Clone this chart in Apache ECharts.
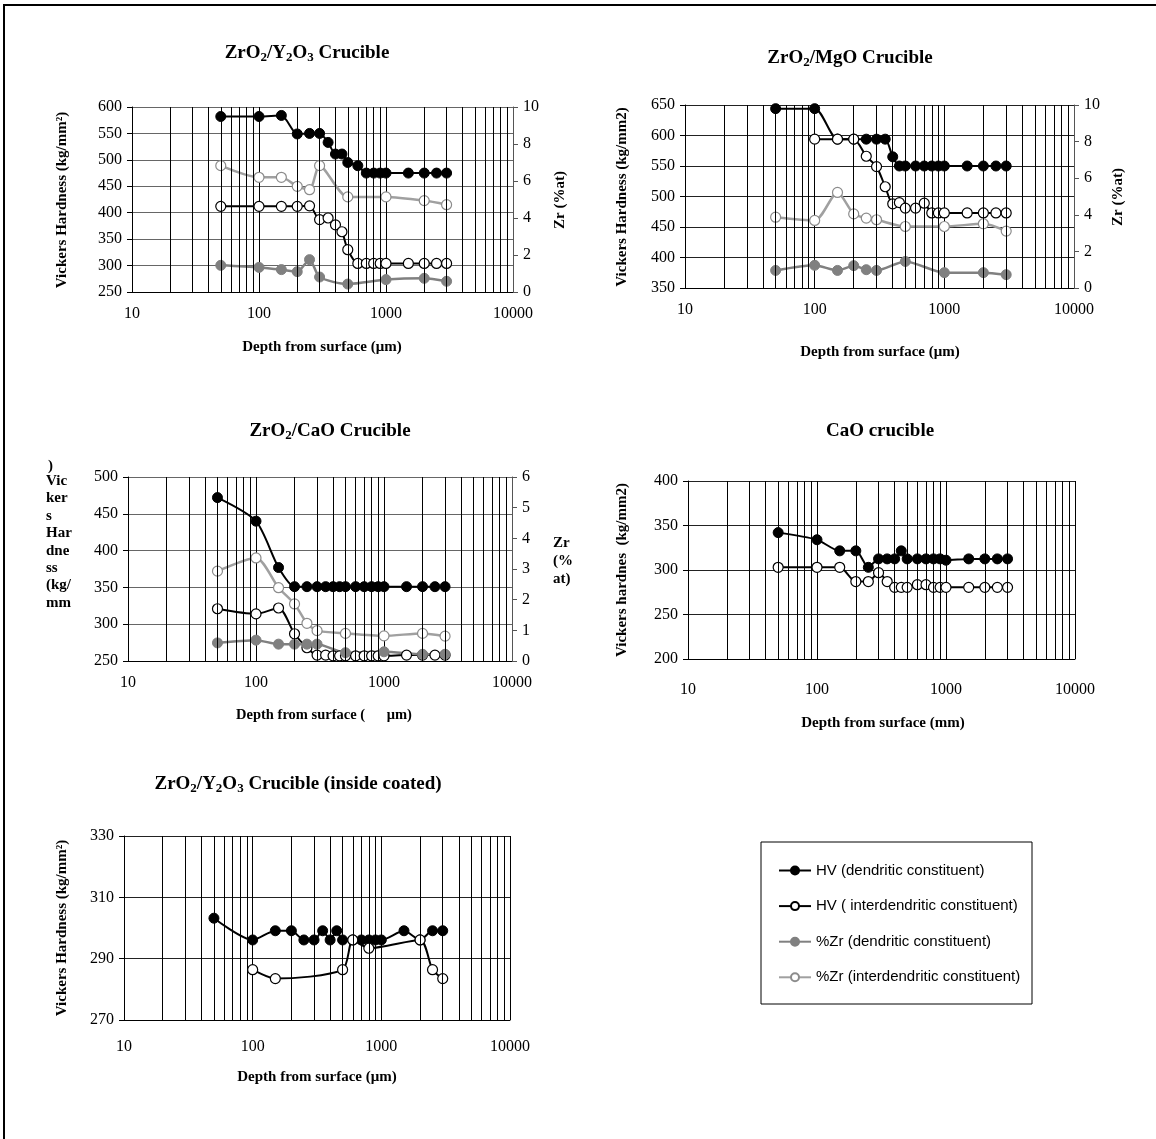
<!DOCTYPE html>
<html>
<head>
<meta charset="utf-8">
<script src="https://cdn.jsdelivr.net/npm/echarts@6/dist/echarts.min.js"></script>
<style>html,body{margin:0;padding:0;background:#fff}#c{width:1156px;height:1139px}</style>
</head>
<body>
<div id="c"></div>
<script>
// ---------- data ----------
const depthStd = [50,100,150,200,250,300,350,400,450,500,600,700,800,900,1000,1500,2000,2500,3000];
const depthZr = [50,100,150,200,250,300,500,1000,2000,3000];

// Panel 1: ZrO2/Y2O3
const p1HVd = [582,582,584,549,550,550,533,511,511,495,489,475,475,475,475,475,475,475,475];
const p1HVi = [412,412,412,412,413,387,390,377,364,330,304,304,304,304,304,304,304,304,304];
const p1Zrd = [1.44,1.33,1.21,1.10,1.75,0.81,0.43,0.67,0.74,0.58];
const p1Zri = [6.83,6.20,6.20,5.71,5.53,6.83,5.14,5.14,4.94,4.72];

// Panel 2: ZrO2/MgO
const p2HVd = [644,644,594,594,594,594,594,565,550,550,550,550,550,550,550,550,550,550,550];
const p2HViDepth = [100,150,200,250,300,350,400,450,500,600,700,800,900,1000,1500,2000,2500,3000];
const p2HVi = [594,594,594,566,549,516,488,490,481,481,489,473,473,473,473,473,473,473];
const p2Zrd = [0.96,1.24,0.96,1.22,1.00,0.96,1.45,0.84,0.84,0.73];
const p2Zri = [3.87,3.69,5.22,4.05,3.82,3.73,3.36,3.36,3.51,3.11];

// Panel 3: ZrO2/CaO
const p3HVd = [472,440,377,351,351,351,351,351,351,351,351,351,351,351,351,351,351,351,351];
const p3HViDepth = [50,100,150,200,250,300,350,400,450,500,600,700,800,900,1000,1500,2000,2500,3000];
const p3HVi = [321,314,322,287,268,258,258,257,257,257,257,257,257,257,257,258,258,258,258];
const p3Zrd = [0.59,0.68,0.55,0.55,0.55,0.55,0.27,0.30,0.22,0.22];
const p3Zri = [2.93,3.36,2.39,1.86,1.23,0.99,0.90,0.82,0.90,0.81];

// Panel 4: CaO crucible
const p4HVd = [342,334,321.5,321.5,303,312.5,312.5,312.5,321.5,312.5,312.5,312.5,312.5,312.5,311,312.5,312.5,312.5,312.5];
const p4HVi = [303,303,303,287,287,297,287,280.5,280.5,280.5,283.5,283.5,280.5,280.5,280.5,280.5,280.5,280.5,280.5];

// Panel 5: ZrO2/Y2O3 inside coated
const p5HVd = [303.2,296.1,299.1,299.1,296.1,296.1,299.1,296.1,299.1,296.1,296.1,296.1,296.1,296.1,296.1,299.1,296.1,299.1,299.1];
const p5HViDepth = [100,150,500,600,800,2000,2500,3000];
const p5HVi = [286.4,283.5,286.4,296.1,293.4,296.1,286.4,283.5];

const minorX = [20,30,40,50,60,70,80,90,200,300,400,500,600,700,800,900,2000,3000,4000,5000,6000,7000,8000,9000];
const xTickLabels = ['10','100','1000','10000'];

const seriesNames = ['HV (dendritic constituent)','HV ( interdendritic constituent)','%Zr (dendritic constituent)','%Zr (interdendritic constituent)'];

// ---------- helpers ----------
const SERIF = '"Liberation Serif", "Times New Roman", serif';
const zip = (xs, ys) => xs.map((x, i) => [x, ys[i]]);

const grids = [
  {left:132, top:107, width:381, height:185},
  {left:685, top:105, width:389, height:183},
  {left:128, top:477, width:384, height:184},
  {left:688, top:481, width:387, height:178},
  {left:124, top:836, width:386, height:184}
];
const xLabelMargin = [14,14,14,23,19];

const xAxes = grids.map((g, i) => ({
  type:'log', logBase:10, min:10, max:10000, gridIndex:i,
  axisLine:{show:true, lineStyle:{color:'#000', width:1}},
  axisTick:{show:false},
  splitLine:{show:true, lineStyle:{color:'#000', width:1}},
  axisLabel:{color:'#000', fontFamily:SERIF, fontSize:16, margin:xLabelMargin[i],
    formatter: v => xTickLabels.indexOf(String(Math.round(v))) >= 0 ? String(Math.round(v)) : ''}
}));

function leftY(grid, min, max, interval, splitColor) {
  return {type:'value', gridIndex:grid, position:'left', min, max, interval,
    axisLine:{show:true, lineStyle:{color:'#000', width:1}},
    axisTick:{show:true, length:5, lineStyle:{color:'#000'}},
    splitLine:{show:true, lineStyle:{color:splitColor, width:1}},
    axisLabel:{color:'#000', fontFamily:SERIF, fontSize:16, margin:10}};
}
function rightY(grid, min, max, interval) {
  return {type:'value', gridIndex:grid, position:'right', min, max, interval,
    axisLine:{show:true, lineStyle:{color:'#555', width:1}},
    axisTick:{show:true, length:5, lineStyle:{color:'#555'}},
    splitLine:{show:false},
    axisLabel:{color:'#000', fontFamily:SERIF, fontSize:16, margin:10}};
}
const yAxes = [
  leftY(0, 250, 600, 50, '#666'), rightY(0, 0, 10, 2),
  leftY(1, 350, 650, 50, '#222'), rightY(1, 0, 10, 2),
  leftY(2, 250, 500, 50, '#666'), rightY(2, 0, 6, 1),
  leftY(3, 200, 400, 50, '#222'),
  leftY(4, 270, 330, 20, '#222')
];

function styleFor(kind) {
  if (kind === 0) return {itemStyle:{color:'#000', borderColor:'#000', borderWidth:1}, lineStyle:{color:'#000', width:2}};
  if (kind === 1) return {itemStyle:{color:'#fff', borderColor:'#000', borderWidth:1.2}, lineStyle:{color:'#000', width:2}};
  if (kind === 2) return {itemStyle:{color:'#808080', borderColor:'#808080', borderWidth:1}, lineStyle:{color:'#808080', width:2.5}};
  return {itemStyle:{color:'#fff', borderColor:'#8c8c8c', borderWidth:1.2}, lineStyle:{color:'#a0a0a0', width:2.5}};
}
function mk(kind, xi, yi, data) {
  const s = styleFor(kind);
  return {type:'line', name:seriesNames[kind], xAxisIndex:xi, yAxisIndex:yi, data,
    symbol:'circle', symbolSize:10, smooth:0.25, z:3,
    itemStyle:s.itemStyle, lineStyle:s.lineStyle, emphasis:{disabled:true}, silent:true};
}
function gridLines(xi, yi) {
  return {type:'line', name:'grid'+xi, xAxisIndex:xi, yAxisIndex:yi, data:[], z:1, silent:true,
    markLine:{silent:true, symbol:['none','none'], label:{show:false}, animation:false,
      lineStyle:{color:'#000', width:1, type:'solid'},
      emphasis:{disabled:true},
      data:minorX.map(v => ({xAxis:v}))}};
}

const series = [
  gridLines(0,0), gridLines(1,2), gridLines(2,4), gridLines(3,6), gridLines(4,7),
  mk(0,0,0, zip(depthStd,p1HVd)), mk(1,0,0, zip(depthStd,p1HVi)), mk(2,0,1, zip(depthZr,p1Zrd)), mk(3,0,1, zip(depthZr,p1Zri)),
  mk(0,1,2, zip(depthStd,p2HVd)), mk(1,1,2, zip(p2HViDepth,p2HVi)), mk(2,1,3, zip(depthZr,p2Zrd)), mk(3,1,3, zip(depthZr,p2Zri)),
  mk(0,2,4, zip(depthStd,p3HVd)), mk(1,2,4, zip(p3HViDepth,p3HVi)), mk(2,2,5, zip(depthZr,p3Zrd)), mk(3,2,5, zip(depthZr,p3Zri)),
  mk(0,3,6, zip(depthStd,p4HVd)), mk(1,3,6, zip(depthStd,p4HVi)),
  mk(0,4,7, zip(depthStd,p5HVd)), mk(1,4,7, zip(p5HViDepth,p5HVi))
];

// ---------- texts ----------
const titleRich = {s:{fontSize:13, fontWeight:'bold', fontFamily:SERIF, verticalAlign:'bottom', lineHeight:9}};
function titleText(x, y, text) {
  return {type:'text', x, y, z:10, silent:true,
    style:{text, fill:'#000', fontSize:19, fontWeight:'bold', fontFamily:SERIF, align:'center', verticalAlign:'middle', lineHeight:22, rich:titleRich}};
}
function label(x, y, text, size, rot, align) {
  return {type:'text', x, y, z:10, silent:true, rotation: rot ? Math.PI/2 : 0,
    style:{text, fill:'#000', fontSize:size, fontWeight:'bold', fontFamily:SERIF, align:align || 'center', verticalAlign:'middle'}};
}

const graphics = [
  // outer frame
  {type:'line', silent:true, shape:{x1:3, y1:5, x2:1156, y2:5}, style:{stroke:'#000', lineWidth:2}},
  {type:'line', silent:true, shape:{x1:4, y1:4, x2:4, y2:1139}, style:{stroke:'#000', lineWidth:2}},
  // titles
  titleText(307, 53, 'ZrO{s|2}/Y{s|2}O{s|3} Crucible'),
  titleText(850, 58, 'ZrO{s|2}/MgO Crucible'),
  titleText(330, 431, 'ZrO{s|2}/CaO Crucible'),
  titleText(880, 431, 'CaO crucible'),
  titleText(298, 784, 'ZrO{s|2}/Y{s|2}O{s|3} Crucible (inside coated)'),
  // x axis names
  label(322, 347, 'Depth from surface (\u03bcm)', 15),
  label(880, 352, 'Depth from surface (\u03bcm)', 15),
  label(324, 715, 'Depth from surface (      \u03bcm)', 14.5),
  label(883, 723, 'Depth from surface (mm)', 15),
  label(317, 1077, 'Depth from surface (\u03bcm)', 15),
  // y axis names
  label(62, 200, 'Vickers Hardness (kg/mm\u00b2)', 15, true),
  label(560, 200, 'Zr (%at)', 15, true),
  label(622, 197, 'Vickers Hardness (kg/mm2)', 15, true),
  label(1118, 197, 'Zr (%at)', 15, true),
  label(622, 570, 'Vickers hardnes  (kg/mm2)', 15, true),
  label(62, 928, 'Vickers Hardness (kg/mm\u00b2)', 15, true),
  {type:'text', x:48, y:466, silent:true, z:9,
    style:{text:')', fill:'#000', fontSize:15, fontWeight:'bold', fontFamily:SERIF, align:'left', verticalAlign:'middle'}},
  {type:'text', x:46, y:472.5, silent:true, z:10,
    style:{text:'Vic\nker\ns\nHar\ndne\nss\n(kg/\nmm', fill:'#000', fontSize:15, fontWeight:'bold', fontFamily:SERIF, align:'left', verticalAlign:'top', lineHeight:17.4}},
  {type:'text', x:553, y:534, silent:true, z:10,
    style:{text:'Zr\n(%\nat)', fill:'#000', fontSize:15, fontWeight:'bold', fontFamily:SERIF, align:'left', verticalAlign:'top', lineHeight:18}},
  // legend frame
  {type:'rect', silent:true, shape:{x:761, y:842, width:271, height:162}, style:{fill:'none', stroke:'#000', lineWidth:1}}
];

const chart = echarts.init(document.getElementById('c'), null, {renderer:'canvas'});
chart.setOption({
  animation:false,
  backgroundColor:'#fff',
  grid:grids,
  xAxis:xAxes,
  yAxis:yAxes,
  series,
  legend:{
    data:seriesNames, orient:'vertical', left:778, top:863, padding:0,
    itemWidth:32, itemHeight:10, itemGap:20.6, selectedMode:false,
    textStyle:{fontFamily:'"Liberation Sans", Arial, sans-serif', fontSize:15, lineHeight:15, color:'#000'}
  },
  graphic:graphics
});
</script>
</body>
</html>
